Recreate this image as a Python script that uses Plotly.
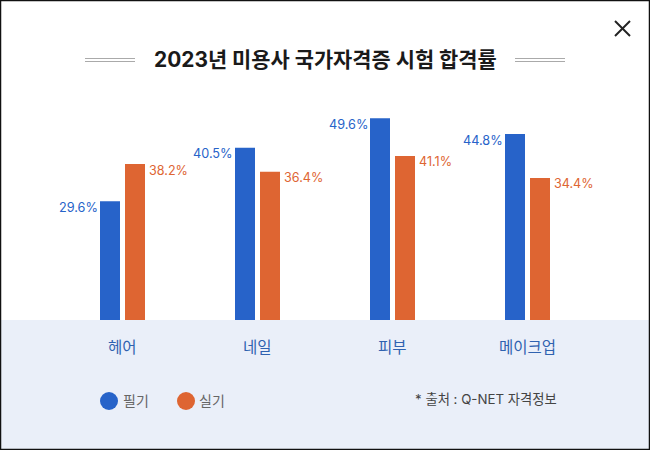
import plotly.graph_objects as go

categories = ["헤어", "네일", "피부", "메이크업"]
written_labels = ["29.6%", "40.5%", "49.6%", "44.8%"]
practical_labels = ["38.2%", "36.4%", "41.1%", "34.4%"]
# Bar heights as drawn in the picture (they differ slightly from the printed labels)
written_heights = [29.2, 42.3, 49.6, 45.7]
practical_heights = [38.3, 36.4, 40.3, 34.9]
series_names = ["필기", "실기"]
title_text = "2023년 미용사 국가자격증 시험 합격률"
source_text = "* 출처 : Q-NET 자격정보"

BLUE = "#2763C9"
ORANGE = "#DE6532"
FONT = "Inter, 'Noto Sans CJK KR'"
W, H = 650, 450
PLOT_H = 320

# Paper coordinates span the plot area only (0..650 x 0..320 px here)
def px(x): return x / W
def py(y): return 1 - y / PLOT_H

fig = go.Figure()
fig.add_bar(x=categories, y=written_heights, name=series_names[0], marker=dict(color=BLUE, line_width=0))
fig.add_bar(x=categories, y=practical_heights, name=series_names[1], marker=dict(color=ORANGE, line_width=0))

shapes = [
    dict(type="rect", xref="paper", yref="paper", x0=0, x1=1, y0=py(450), y1=py(320),
         fillcolor="#EAEFF9", line_width=0, layer="below"),
    dict(type="rect", xref="paper", yref="paper", x0=px(0.5), x1=px(649.5), y0=py(449.5), y1=py(0.5),
         fillcolor="rgba(0,0,0,0)", line=dict(color="#111111", width=1.5), layer="above"),
]
for x0, x1 in [(85, 135), (515, 565)]:
    for y in (58.5, 61.5):
        shapes.append(dict(type="line", xref="paper", yref="paper", x0=px(x0), x1=px(x1),
                           y0=py(y), y1=py(y), line=dict(color="#AAAAAA", width=1)))
shapes.append(dict(type="line", xref="paper", yref="paper", x0=px(615), x1=px(630), y0=py(21), y1=py(36),
                   line=dict(color="#222222", width=2)))
shapes.append(dict(type="line", xref="paper", yref="paper", x0=px(630), x1=px(615), y0=py(21), y1=py(36),
                   line=dict(color="#222222", width=2)))
for cx, col in [(109, BLUE), (186, ORANGE)]:
    shapes.append(dict(type="circle", xref="paper", yref="paper", x0=px(cx - 9), x1=px(cx + 9),
                       y0=py(410), y1=py(392), fillcolor=col, line_width=0))

annotations = []
def text(x, y, s, size, color, anchor="center", weight=None):
    annotations.append(dict(xref="paper", yref="paper", x=px(x), y=py(y), text=s, showarrow=False,
                            xanchor=anchor, yanchor="middle", font=dict(family=FONT, size=size, color=color, weight=weight)))

text(325, 59.5, title_text, 20.9, "#1A1A1A", weight=700)
text(120.5, 400, series_names[0], 14, "#666666", "left")
text(197.5, 400, series_names[1], 14, "#666666", "left")
text(559, 399, source_text, 13.3, "#444444", "right")

for i, c in enumerate(categories):
    annotations.append(dict(x=c, y=written_heights[i], yshift=-6, xshift=-23, text=written_labels[i],
                            showarrow=False, xanchor="right", yanchor="middle",
                            font=dict(family=FONT, size=12.7, color=BLUE)))
    annotations.append(dict(x=c, y=practical_heights[i], yshift=-6, xshift=24.5, text=practical_labels[i],
                            showarrow=False, xanchor="left", yanchor="middle",
                            font=dict(family=FONT, size=12.6, color=ORANGE)))
    annotations.append(dict(x=c, yref="paper", y=py(347), text=c, showarrow=False, xanchor="center",
                            yanchor="middle", font=dict(family=FONT, size=15.5, color="#2F62B0")))

fig.update_layout(
    width=W, height=H, autosize=False,
    margin=dict(l=0, r=0, t=0, b=130),
    paper_bgcolor="white", plot_bgcolor="rgba(0,0,0,0)",
    barmode="group", bargap=1 - 50 / 135, bargroupgap=0.2,
    showlegend=False, shapes=shapes, annotations=annotations,
    xaxis=dict(range=[-122.5 / 135, (650 - 122.5) / 135], showticklabels=False, showgrid=False,
               zeroline=False, showline=False, ticks="", type="category", categoryorder="array", categoryarray=categories),
    yaxis=dict(range=[0, 320 / 4.07], visible=False),
)
fig.write_html("out.html", config={"displayModeBar": False},
               post_script="document.body.style.margin='0';document.documentElement.style.overflow='hidden';")
